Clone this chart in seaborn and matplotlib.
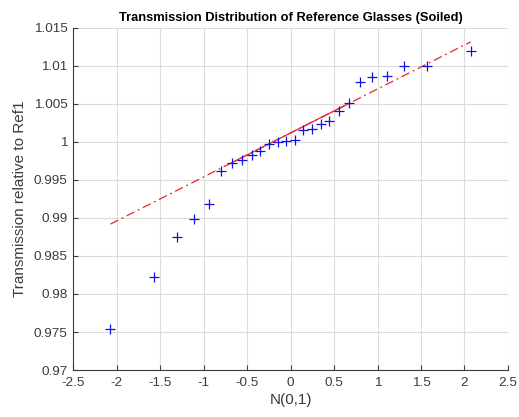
import numpy as np
import pandas as pd
import matplotlib
matplotlib.use("Agg")
import matplotlib.pyplot as plt
import seaborn as sns

# Theoretical normal quantiles (plotting positions (i-0.5)/n, n = 26)
normal_quantiles = [-2.070, -1.574, -1.304, -1.106, -0.942, -0.801, -0.674,
                    -0.558, -0.448, -0.345, -0.243, -0.145, -0.048,
                    0.048, 0.145, 0.243, 0.345, 0.448, 0.558, 0.674,
                    0.801, 0.942, 1.106, 1.304, 1.574, 2.070]

# Sorted transmission of the soiled reference glasses, relative to Ref1
transmission = [0.97535, 0.98228, 0.98754, 0.98983, 0.99180, 0.99618, 0.99728,
                0.99763, 0.99829, 0.99882, 0.99974, 1.00000, 1.00013,
                1.00022, 1.00152, 1.00167, 1.00233, 1.00276, 1.00412, 1.00509,
                1.00793, 1.00859, 1.00872, 1.01004, 1.01004, 1.01201]

x_ticks = [-2.5, -2, -1.5, -1, -0.5, 0, 0.5, 1, 1.5, 2, 2.5]
y_ticks = [0.97, 0.975, 0.98, 0.985, 0.99, 0.995, 1, 1.005, 1.01, 1.015]

title = "Transmission Distribution of Reference Glasses (Soiled)"
x_label = "N(0,1)"
y_label = "Transmission relative to Ref1"

# Reference line through the first and third quartiles
Z_QUART = 0.6745
y_sorted = np.sort(np.asarray(transmission))
q1, q3 = np.percentile(y_sorted, [25, 75], method="hazen")
slope = (q3 - q1) / (2 * Z_QUART)
centre = (q1 + q3) / 2

def ref_line(x):
    return centre + slope * np.asarray(x)

xs = np.asarray(normal_quantiles)
df = pd.DataFrame({"q": xs, "t": y_sorted})
full = pd.DataFrame({"q": [xs.min(), xs.max()], "t": ref_line([xs.min(), xs.max()])})
mid = pd.DataFrame({"q": [-Z_QUART, Z_QUART], "t": ref_line([-Z_QUART, Z_QUART])})

sns.set_style("white")
plt.rcParams["font.family"] = ["Liberation Sans", "DejaVu Sans"]

fig = plt.figure(figsize=(5.19, 4.17), dpi=100)
ax = fig.add_axes([0.1407, 0.1127, 0.8381, 0.8202])

sns.lineplot(data=full, x="q", y="t", ax=ax, color="#e8262b", linewidth=0.9,
             linestyle=(0, (7, 3, 1.5, 3)), zorder=2)
sns.lineplot(data=mid, x="q", y="t", ax=ax, color="#e8262b", linewidth=0.9,
             zorder=2)
sns.scatterplot(data=df, x="q", y="t", ax=ax, marker="+", s=42, color="#1010e0",
                linewidth=0.9, zorder=3)

ax.set_xlim(-2.5, 2.5)
ax.set_ylim(0.97, 1.015)
ax.set_xticks(x_ticks)
ax.set_xticklabels([f"{v:g}" for v in x_ticks])
ax.set_yticks(y_ticks)
ax.set_yticklabels([f"{v:g}" for v in y_ticks])

ax.grid(True, color="#dcdcdc", linewidth=0.8)
ax.set_axisbelow(True)
for side in ["top", "right"]:
    ax.spines[side].set_visible(False)
for side in ["left", "bottom"]:
    ax.spines[side].set_color("#3c3c3c")
    ax.spines[side].set_linewidth(0.8)

ax.tick_params(direction="in", length=3.5, width=0.8, color="#3c3c3c",
               labelcolor="#3c3c3c", labelsize=9.7, left=True, bottom=True)
ax.tick_params(axis="x", pad=5)
ax.tick_params(axis="y", pad=4)

ax.set_title(title, fontsize=9.3, fontweight="bold", color="black", pad=5)
ax.set_xlabel(x_label, fontsize=11, color="#3c3c3c", labelpad=3)
ax.set_ylabel(y_label, fontsize=11, color="#3c3c3c", labelpad=5)

fig.savefig("out.png", dpi=100)
